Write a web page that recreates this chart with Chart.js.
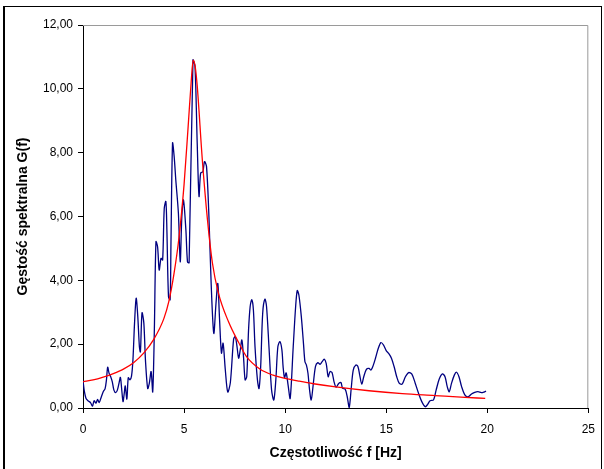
<!DOCTYPE html>
<html>
<head>
<meta charset="utf-8">
<script src="https://cdn.jsdelivr.net/npm/chart.js@4/dist/chart.umd.min.js"></script>
<style>
html,body{margin:0;padding:0;background:#fff;}
#wrap{position:absolute;left:0;top:0;width:604px;height:469px;}
#frame{position:absolute;left:3px;top:6px;width:596px;height:470px;border:1px solid #000;border-left:2px solid #000;pointer-events:none;}
</style>
</head>
<body>
<div id="wrap"><canvas id="c" width="604" height="469"></canvas></div>
<div id="frame"></div>
<script>
// Measured spectrum (blue)
const freqMeasured = [0.00,0.07,0.15,0.26,0.37,0.47,0.55,0.64,0.72,0.80,0.88,1.00,1.09,1.16,1.22,1.29,1.37,1.45,1.53,1.62,1.70,1.78,1.85,1.91,1.98,2.04,2.09,2.17,2.24,2.32,2.40,2.47,2.55,2.63,2.71,2.79,2.84,2.92,3.01,3.09,3.20,3.28,3.37,3.45,3.53,3.61,3.69,3.77,3.86,3.94,4.02,4.10,4.15,4.23,4.31,4.35,4.43,4.51,4.59,4.72,4.81,4.89,4.97,5.09,5.17,5.25,5.44,5.54,5.65,5.74,5.82,5.93,6.01,6.11,6.23,6.34,6.47,6.58,6.67,6.75,6.85,6.93,7.04,7.16,7.29,7.45,7.53,7.61,7.70,7.78,7.86,7.94,8.02,8.10,8.19,8.27,8.35,8.43,8.51,8.63,8.71,8.79,8.89,9.00,9.08,9.20,9.33,9.44,9.54,9.64,9.74,9.84,9.90,9.97,10.05,10.15,10.25,10.40,10.52,10.60,10.68,10.80,10.91,10.98,11.05,11.13,11.21,11.29,11.37,11.50,11.62,11.73,11.83,11.93,12.03,12.13,12.22,12.32,12.42,12.52,12.65,12.76,12.84,12.97,13.07,13.17,13.27,13.37,13.50,13.60,13.69,13.79,13.89,14.02,14.15,14.25,14.35,14.47,14.61,14.74,14.87,15.00,15.13,15.26,15.39,15.52,15.65,15.79,15.95,16.11,16.27,16.44,16.60,16.76,16.93,17.06,17.17,17.34,17.47,17.62,17.78,17.91,18.02,18.12,18.23,18.37,18.48,18.60,18.73,18.89,19.05,19.22,19.38,19.54,19.71,19.84,19.94];
const gMeasured = [0.86,0.51,0.30,0.22,0.17,0.06,0.23,0.15,0.27,0.17,0.30,0.51,0.60,0.88,1.28,1.09,0.98,0.82,0.56,0.48,0.56,0.77,0.96,0.62,0.20,0.46,0.69,0.28,0.95,0.88,1.00,1.50,2.66,3.44,2.87,1.92,1.76,2.98,2.66,1.50,0.61,0.77,1.14,0.51,2.45,5.21,5.05,4.32,4.69,4.64,6.26,6.47,5.58,3.49,3.39,5.05,8.30,7.88,7.15,6.10,4.58,6.00,6.52,5.58,4.58,4.55,10.90,10.70,8.30,6.63,7.36,7.40,7.72,7.57,6.00,3.90,2.34,3.28,3.90,2.86,1.72,2.03,1.20,0.50,0.80,2.15,2.24,1.97,1.56,1.82,2.13,1.61,0.88,0.98,2.44,3.18,3.39,3.07,1.92,0.88,0.61,1.29,2.97,3.41,3.18,1.92,0.56,0.25,0.88,1.92,2.08,1.82,1.29,0.95,1.10,0.70,0.30,1.92,3.18,3.68,3.54,2.87,2.00,1.45,1.35,1.09,0.56,0.25,0.62,1.30,1.42,1.37,1.45,1.53,1.40,0.98,1.14,1.11,0.82,0.65,0.77,0.80,0.62,0.59,0.36,0.02,0.62,1.19,1.35,1.30,1.03,0.75,0.98,1.21,1.24,1.19,1.32,1.56,1.87,2.05,1.97,1.80,1.70,1.56,1.30,0.98,0.77,0.75,0.98,1.11,1.06,0.77,0.46,0.20,0.04,0.12,0.23,0.25,0.56,0.90,1.07,0.98,0.67,0.51,0.77,1.03,1.12,0.98,0.67,0.41,0.35,0.44,0.49,0.51,0.48,0.50,0.53];

// Fitted curve (red)
const freqFit = [0,0.5,1,1.5,2,2.5,3,3.5,4,4.25,4.5,4.75,5.0,5.2,5.35,5.45,5.55,5.65,5.9,6.15,6.4,6.7,7.2,7.7,8.1,8.75,9.4,10,10.7,11.4,12.5,14.15,15.8,17.4,18.7,19.9];
const gFit = [0.82,0.88,0.97,1.08,1.22,1.42,1.72,2.15,2.80,3.35,4.20,5.35,7.00,8.80,10.20,10.90,10.70,10.10,7.80,5.95,4.55,3.60,2.70,2.05,1.60,1.22,1.03,0.93,0.84,0.76,0.66,0.54,0.45,0.39,0.34,0.30];

const xTicks = [0,5,10,15,20,25];
const yTicks = [0,2,4,6,8,10,12];

const toPts = (xs, ys) => xs.map((x, i) => ({x: x, y: ys[i]}));

const FONT = '"Liberation Sans", Arial, sans-serif';

const framePlugin = {
  id: 'framePlugin',
  afterDraw(chart) {
    const a = chart.chartArea, ctx = chart.ctx;
    ctx.save();
    ctx.strokeStyle = '#9a9a9a';
    ctx.lineWidth = 1;
    ctx.beginPath();
    ctx.moveTo(a.left, a.top + 0.5);
    ctx.lineTo(a.right - 0.5, a.top + 0.5);
    ctx.lineTo(a.right - 0.5, a.bottom);
    ctx.stroke();
    ctx.restore();
  }
};

new Chart(document.getElementById('c'), {
  type: 'scatter',
  data: {
    datasets: [
      {
        label: 'fit',
        data: toPts(freqFit, gFit),
        showLine: true,
        borderColor: '#ff0000',
        borderWidth: 1.3,
        pointRadius: 0,
        tension: 0.4,
        cubicInterpolationMode: 'monotone',
        fill: false
      },
      {
        label: 'measured',
        data: toPts(freqMeasured, gMeasured),
        showLine: true,
        borderColor: '#000080',
        borderWidth: 1.3,
        pointRadius: 0,
        tension: 0.3,
        fill: false
      }
    ]
  },
  options: {
    responsive: false,
    animation: false,
    devicePixelRatio: 1,
    layout: { padding: { left: 0, right: 11, top: 25, bottom: 0 } },
    plugins: { legend: { display: false }, tooltip: { enabled: false } },
    scales: {
      x: {
        type: 'linear',
        min: 0, max: 25,
        afterBuildTicks: (s) => { s.ticks = xTicks.map(v => ({value: v})); },
        afterFit: (s) => { s.height = 61; },
        ticks: { color: '#000', font: { family: FONT, size: 12 }, padding: 9, maxRotation: 0 },
        grid: { display: true, drawOnChartArea: false, drawTicks: true, tickLength: 5, tickColor: '#000' },
        border: { display: true, color: '#000', width: 1 },
        title: { display: true, text: 'Częstotliwość f [Hz]', color: '#000', font: { family: FONT, size: 14, weight: 'bold' }, padding: { top: 4, bottom: 7.5 } }
      },
      y: {
        type: 'linear',
        min: 0, max: 12,
        afterBuildTicks: (s) => { s.ticks = yTicks.map(v => ({value: v})); },
        afterFit: (s) => { s.width = 83; },
        ticks: { color: '#000', font: { family: FONT, size: 12 }, padding: 5,
          callback: (v) => v.toFixed(2).replace('.', ',') },
        grid: { display: true, drawOnChartArea: false, drawTicks: true, tickLength: 5, tickColor: '#000' },
        border: { display: true, color: '#000', width: 1 },
        title: { display: true, text: 'Gęstość spektralna G(f)', color: '#000', font: { family: FONT, size: 14, weight: 'bold' }, padding: { top: 14.5, bottom: 4 } }
      }
    }
  },
  plugins: [framePlugin]
});
</script>
</body>
</html>
